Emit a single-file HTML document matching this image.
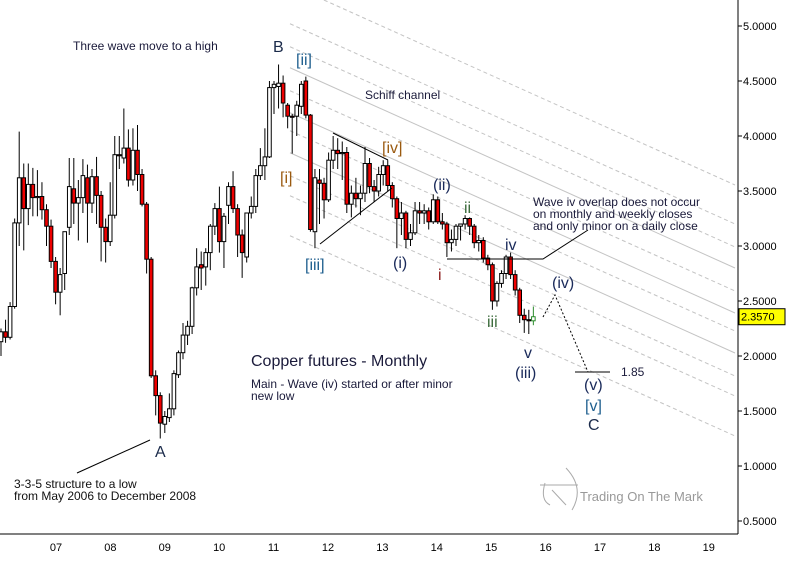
<!DOCTYPE html>
<html><head><meta charset="utf-8">
<style>
html,body{margin:0;padding:0;background:#fff;}
svg{display:block;font-family:"Liberation Sans",sans-serif;}
.lbl{font-size:16px;}
.ax{font-size:11px;fill:#000;}
.note{font-size:12px;fill:#1a1a3a;}
.narrow{font-family:"Liberation Sans Narrow","Liberation Sans",sans-serif;font-size:12px;fill:#111;}
</style></head>
<body>
<svg id="chart" width="798" height="572" viewBox="0 0 798 572" xmlns="http://www.w3.org/2000/svg">
<g id="channel"></g>
<g id="candles"></g>
<g id="axes"></g>
<g id="annot">
<text class="note" x="73" y="50">Three wave move to a high</text>
<text class="lbl" x="273" y="52" fill="#1a2a4a">B</text>
<text class="lbl" x="296" y="65" fill="#1f5f8f">[ii]</text>
<text class="note" x="365" y="99">Schiff channel</text>
<text class="lbl" x="382" y="153" fill="#9a5a10">[iv]</text>
<text class="lbl" x="280" y="183" fill="#9a5a10">[i]</text>
<text class="lbl" x="305" y="270" fill="#1f5f8f">[iii]</text>
<text class="lbl" x="433" y="190" fill="#1a2a5a">(ii)</text>
<text class="lbl" x="393" y="268" fill="#1a2a5a">(i)</text>
<text class="lbl" x="438" y="280" fill="#8b1a1a">i</text>
<text class="lbl" x="464" y="213" fill="#3a6a3a">ii</text>
<text class="lbl" x="487" y="327" fill="#3a6a3a">iii</text>
<text class="lbl" x="505" y="250" fill="#1a2a5a">iv</text>
<text class="lbl" x="524" y="358" fill="#1a2a5a">v</text>
<text class="lbl" x="515" y="378" fill="#1a2a5a">(iii)</text>
<text class="lbl" x="552" y="288" fill="#1a2a5a">(iv)</text>
<text class="lbl" x="584" y="390" fill="#1a2a5a">(v)</text>
<text class="lbl" x="585" y="411" fill="#1f5f8f">[v]</text>
<text class="lbl" x="588" y="430" fill="#1a2a4a">C</text>
<text class="lbl" x="155" y="457" fill="#1a2a4a">A</text>
<text class="note" x="621" y="376" fill="#111">1.85</text>
<text class="note" x="533" y="206">Wave iv overlap does not occur</text>
<text class="note" x="533" y="218">on monthly and weekly closes</text>
<text class="note" x="533" y="230">and only minor on a daily close</text>
<text x="251" y="366" style="font-size:16px" fill="#1a1a3a">Copper futures - Monthly</text>
<text class="note" x="251" y="388">Main - Wave (iv) started or after minor</text>
<text class="note" x="251" y="400">new low</text>
<text class="narrow" x="14" y="488">3-3-5 structure to a low</text>
<text class="narrow" x="14" y="500">from May 2006 to December 2008</text>
<line x1="77" y1="473" x2="150" y2="440" stroke="#000" stroke-width="1"/>
<polyline points="333,133 388,160" fill="none" stroke="#000" stroke-width="1"/>
<polyline points="320,244 392,188" fill="none" stroke="#000" stroke-width="1"/>
<polyline points="447,259 543,259 588,230" fill="none" stroke="#000" stroke-width="1"/>
<polyline points="543,317 555,295 588,372" fill="none" stroke="#000" stroke-width="1" stroke-dasharray="2,2"/>
<line x1="575" y1="372" x2="610" y2="372" stroke="#000" stroke-width="1"/>
<g stroke="#aaa" fill="none" stroke-width="1">
<path d="M566,468 Q585,488 572,510"/><path d="M540,485 L578,485"/><path d="M545,483 Q540,500 550,505"/><path d="M552,490 L566,505"/>
</g>
<text x="580" y="501" style="font-size:13px;font-family:'Liberation Sans Narrow','Liberation Sans',sans-serif" fill="#999">Trading On The Mark</text>
</g>
</svg>
<script>
// Monthly OHLC, Jan 2006 .. Oct 2015
const opens=[2.13,2.22,2.17,2.45,3.21,3.62,3.34,3.56,3.44,3.45,3.33,3.18,2.86,2.58,2.75,3.17,3.52,3.39,3.44,3.62,3.39,3.63,3.46,3.17,3.04,3.28,3.83,3.80,3.89,3.60,3.87,3.65,3.38,2.88,1.82,1.64,1.38,1.44,1.52,1.83,2.03,2.19,2.27,2.62,2.83,2.81,2.94,3.18,3.34,3.04,3.37,3.54,3.34,3.10,2.90,3.30,3.36,3.64,3.73,3.81,4.44,4.45,4.48,4.28,4.18,4.18,4.27,4.50,4.19,3.13,3.60,3.57,3.42,3.78,3.87,3.84,3.85,3.38,3.48,3.43,3.48,3.75,3.54,3.50,3.65,3.73,3.55,3.43,3.25,3.30,3.06,3.12,3.32,3.30,3.32,3.22,3.42,3.22,3.20,3.03,3.06,3.18,3.20,3.25,3.18,3.03,3.05,2.89,2.83,2.50,2.66,2.75,2.90,2.74,2.60,2.37,2.33,2.32];
const highs=[2.25,2.33,2.49,3.25,4.04,3.75,3.75,3.71,3.69,3.58,3.38,3.24,2.90,2.80,3.13,3.80,3.80,3.60,3.79,3.74,3.70,3.81,3.50,3.25,3.58,4.00,4.00,4.25,4.06,4.07,4.10,3.70,3.40,2.90,1.87,1.67,1.50,1.66,1.87,2.05,2.30,2.32,2.63,2.98,2.95,2.98,3.20,3.39,3.54,3.30,3.58,3.68,3.38,3.15,3.30,3.45,3.70,3.89,4.07,4.50,4.50,4.65,4.55,4.30,4.20,4.32,4.50,4.54,4.20,3.70,3.70,3.62,3.85,4.00,3.98,3.95,3.90,3.55,3.62,3.55,3.90,3.80,3.60,3.72,3.78,3.78,3.58,3.45,3.40,3.32,3.20,3.40,3.40,3.38,3.35,3.47,3.45,3.30,3.22,3.15,3.20,3.20,3.28,3.26,3.20,3.10,3.08,2.92,2.85,2.68,2.78,2.92,2.94,2.78,2.62,2.43,2.42,2.45];
const lows=[2.00,2.12,2.15,2.43,3.00,2.96,3.19,3.27,3.27,3.24,3.00,2.80,2.47,2.37,2.60,3.10,3.20,3.05,3.30,3.03,3.30,3.20,2.86,2.85,3.00,3.25,3.70,3.75,3.54,3.55,3.50,3.36,2.75,1.80,1.46,1.25,1.30,1.40,1.46,1.80,1.97,2.10,2.20,2.55,2.60,2.64,2.78,3.10,2.94,2.80,3.20,3.30,2.90,2.71,2.85,3.25,3.30,3.60,3.60,3.80,4.20,4.25,4.17,4.07,3.84,4.00,4.20,4.16,3.13,2.98,3.20,3.25,3.40,3.70,3.70,3.60,3.30,3.26,3.35,3.28,3.40,3.48,3.40,3.45,3.55,3.50,3.35,2.98,3.10,2.98,3.00,3.10,3.20,3.20,3.15,3.20,3.20,3.15,2.90,2.95,3.00,3.05,3.15,3.10,2.98,2.95,2.85,2.78,2.42,2.45,2.62,2.70,2.70,2.55,2.30,2.21,2.20,2.28];
const closes=[2.22,2.17,2.45,3.21,3.62,3.34,3.56,3.44,3.45,3.33,3.18,2.86,2.58,2.74,3.13,3.54,3.39,3.44,3.64,3.39,3.63,3.46,3.17,3.04,3.28,3.83,3.82,3.89,3.60,3.87,3.65,3.38,2.88,1.82,1.64,1.39,1.45,1.52,1.84,2.03,2.19,2.27,2.62,2.81,2.80,2.94,3.18,3.34,3.04,3.27,3.54,3.34,3.10,2.94,3.30,3.36,3.64,3.73,3.81,4.44,4.47,4.48,4.30,4.18,4.17,4.28,4.47,4.19,3.15,3.62,3.57,3.42,3.78,3.87,3.84,3.85,3.38,3.48,3.43,3.48,3.75,3.54,3.50,3.65,3.73,3.55,3.43,3.25,3.30,3.06,3.12,3.32,3.30,3.32,3.22,3.42,3.22,3.20,3.03,3.06,3.18,3.20,3.25,3.18,3.03,3.05,2.89,2.83,2.50,2.66,2.75,2.90,2.74,2.60,2.37,2.33,2.32,2.357];
const priceTicks=[5.0,4.5,4.0,3.5,3.0,2.5,2.0,1.5,1.0,0.5];
const yearLabels=["07","08","09","10","11","12","13","14","15","16","17","18","19"];
const lastPrice=2.357;
// channel lines: y at right edge (x=735)
const channelEnds=[185,224,247,268,291,313,331,353,376,396,436];
const channelSolid=[false,false,false,true,false,true,false,true,false,false,false];

const NS="http://www.w3.org/2000/svg";
function yOf(p){return 26+(5-p)*110;}
function xOf(i){return 1+i*4.55;}
function yearX(k){return 56+k*54.4;}
function mk(tag,attrs,parent){const e=document.createElementNS(NS,tag);for(const k in attrs)e.setAttribute(k,attrs[k]);parent.appendChild(e);return e;}

const ch=document.getElementById('channel');
channelEnds.forEach((ye,k)=>{
  const slope=0.45, x2=735;
  let x1=290, y1=ye-slope*(x2-x1);
  if(y1<0){x1=x2-ye/slope;y1=0;}
  const l=mk('line',{x1:x1,y1:y1,x2:x2,y2:ye,stroke:'#c4c4c4','stroke-width':1},ch);
  if(!channelSolid[k]) l.setAttribute('stroke-dasharray','4,3');
  
  
});

const cg=document.getElementById('candles');
for(let i=0;i<opens.length;i++){
  const x=xOf(i), o=opens[i],c=closes[i],h=highs[i],lo=lows[i];
  const last=i===opens.length-1;
  const col=last?'#2a8a2a':'#000';
  const g=mk('g',{},cg);
  
  
  mk('line',{x1:x,y1:yOf(h),x2:x,y2:yOf(lo),stroke:col,'stroke-width':1},g);
  const top=yOf(Math.max(o,c)), bot=yOf(Math.min(o,c));
  mk('rect',{x:x-1.8,y:top,width:3.6,height:Math.max(1,bot-top),fill:c<o?'#ee0000':'#fff',stroke:col,'stroke-width':1},g);
}

const ax=document.getElementById('axes');
const ra=mk('line',{x1:738,y1:0,x2:738,y2:534,stroke:'#000','stroke-width':1},ax);


const ba=mk('line',{x1:0,y1:534,x2:738,y2:534,stroke:'#000','stroke-width':1},ax);


priceTicks.forEach(p=>{
  const y=yOf(p);
  mk('line',{x1:738,y1:y,x2:742,y2:y,stroke:'#000'},ax);
  const t=mk('text',{x:743,y:y+4,class:'ax'},ax);
  t.textContent=p.toFixed(4);
  
  
});
yearLabels.forEach((s,k)=>{
  const t=mk('text',{x:yearX(k),y:551,class:'ax','text-anchor':'middle'},ax);
  t.textContent=s;
  
  
});
const ly=yOf(lastPrice);
const box=mk('rect',{x:739,y:ly-8,width:46,height:16,fill:'#ffff00',stroke:'#000'},ax);


const lt=mk('text',{x:741,y:ly+4,class:'ax'},ax);
lt.textContent=lastPrice.toFixed(4);


</script>
</body></html>
